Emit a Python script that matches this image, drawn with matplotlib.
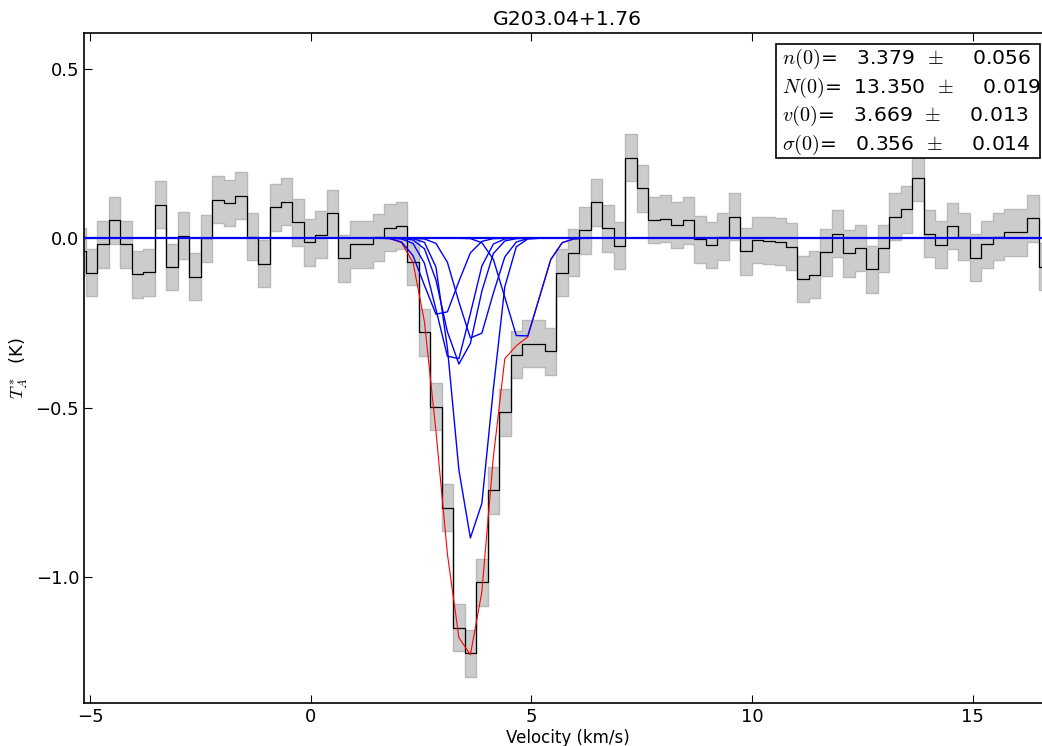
import numpy as np
import matplotlib
matplotlib.use('Agg')
import matplotlib.pyplot as plt
from matplotlib.patches import Rectangle

plt.rcParams['mathtext.fontset'] = 'cm'
plt.rcParams['font.family'] = 'DejaVu Sans'
plt.rcParams['axes.unicode_minus'] = True

# spectrum: channel centres start at v_first, spacing dv (km/s)
v_first = -5.223
dv = 0.26
tmb = [-0.039, -0.101, -0.018, 0.053, -0.018, -0.106, -0.100, 0.099, -0.085, 0.008,
       -0.113, 0.000, 0.114, 0.104, 0.126, 0.005, -0.075, 0.091, 0.108, 0.047,
       -0.012, 0.011, 0.074, -0.059, -0.018, -0.018, 0.003, 0.031, 0.037, -0.069,
       -0.277, -0.497, -0.795, -1.149, -1.224, -1.015, -0.743, -0.513, -0.344, -0.311,
       -0.311, -0.334, -0.101, -0.042, 0.024, 0.106, 0.029, -0.022, 0.238, 0.147,
       0.054, 0.058, 0.039, 0.053, -0.003, -0.020, 0.005, 0.064, -0.039, -0.005,
       -0.007, -0.010, -0.025, -0.120, -0.108, -0.041, 0.014, -0.044, -0.029, -0.091,
       -0.030, 0.064, 0.085, 0.179, 0.013, -0.019, 0.036, 0.005, -0.057, -0.018,
       0.005, 0.018, 0.018, 0.059, -0.084]
rms = 0.069

# hyperfine components and total model over channels 26..43 of the spectrum
comp_start = 26
hf_f11 = [0.000, -0.001, -0.011, -0.051, -0.139, -0.224, -0.217, -0.127, -0.043,
          -0.009, -0.001, 0.000, 0.000, 0.000, 0.000, 0.000, 0.000, 0.000]
hf_f12 = [0.000, 0.000, -0.002, -0.015, -0.074, -0.210, -0.348, -0.355, -0.222,
          -0.082, -0.017, -0.002, 0.000, 0.000, 0.000, 0.000, 0.000, 0.000]
hf_f21 = [0.000, 0.000, 0.000, -0.005, -0.031, -0.123, -0.276, -0.371, -0.310,
          -0.156, -0.045, -0.008, -0.001, 0.000, 0.000, 0.000, 0.000, 0.000]
hf_f22 = [0.000, 0.000, 0.000, -0.001, -0.012, -0.085, -0.324, -0.684, -0.884,
          -0.782, -0.445, -0.143, -0.025, -0.002, 0.000, 0.000, 0.000, 0.000]
hf_f01 = [0.000, 0.000, 0.000, 0.000, -0.002, -0.015, -0.071, -0.188, -0.294,
          -0.280, -0.162, -0.055, -0.011, -0.001, 0.000, 0.000, 0.000, 0.000]
hf_f10 = [0.000, 0.000, 0.000, 0.000, 0.000, 0.000, 0.000, 0.000, -0.001,
          -0.013, -0.062, -0.174, -0.287, -0.288, -0.176, -0.063, -0.013, -0.002]
total = [0.000, -0.001, -0.013, -0.071, -0.247, -0.569, -0.932, -1.178, -1.229,
         -1.043, -0.646, -0.355, -0.317, -0.291, -0.176, -0.063, -0.013, -0.002]

fit_names = [r'$n(0)$', r'$N(0)$', r'$v(0)$', r'$\sigma(0)$']
fit_vals = [3.379, 13.350, 3.669, 0.356]
fit_errs = [0.056, 0.019, 0.013, 0.014]

vel = v_first + dv * np.arange(len(tmb))
tmb = np.array(tmb)


def pad(model):
    out = np.zeros(len(tmb))
    out[comp_start:comp_start + len(model)] = model
    return out


W, H = 1042, 746
fig = plt.figure(figsize=(W / 100, H / 100), dpi=100)
ax = fig.add_axes([84 / W, 43 / H, 967 / W, 670 / H])

ax.fill_between(vel, tmb - rms, tmb + rms, step='mid', facecolor='0.8',
                edgecolor='0.72', linewidth=1.0, zorder=1)
ax.plot(vel, tmb, drawstyle='steps-mid', color='k', lw=0.9, zorder=2)
ax.plot(vel, pad(total), color='r', lw=0.8, zorder=3)
for hf in [hf_f11, hf_f12, hf_f21, hf_f22, hf_f01, hf_f10]:
    ax.plot(vel, pad(hf), color='b', lw=1.0, zorder=4)
ax.axhline(0, color='b', lw=1.6, zorder=5)

ax.set_xlim(-5.136, 16.77)
ax.set_ylim(-1.371, 0.6056)
ax.set_xticks([-5, 0, 5, 10, 15])
ax.set_yticks([-1.0, -0.5, 0.0, 0.5])
ax.tick_params(direction='in', top=True, right=True, length=6, labelsize=13)
for sp in ax.spines.values():
    sp.set_linewidth(1.2)

ax.set_xlabel('Velocity (km/s)', fontsize=12, labelpad=2)
ax.set_ylabel(r'$T_A^*$  (K)', fontsize=13)
ax.set_title('G203.04+1.76', fontsize=14.7)

# parameter box in the upper right corner (pixel layout)
box = Rectangle((776 / W, 1 - 158 / H), 264 / W, 114 / H, transform=fig.transFigure,
                facecolor='white', edgecolor='k', lw=1.2, zorder=10)
fig.patches.append(box)
for i, (n, v, e) in enumerate(zip(fit_names, fit_vals, fit_errs)):
    fig.text(782 / W, 1 - (64 + 28.5 * i) / H, '%s=%8.3f $\\,\\pm$ %8.3f' % (n, v, e),
             fontsize=14.6, va='baseline', ha='left', zorder=11)

fig.savefig('out.png', dpi=100)
